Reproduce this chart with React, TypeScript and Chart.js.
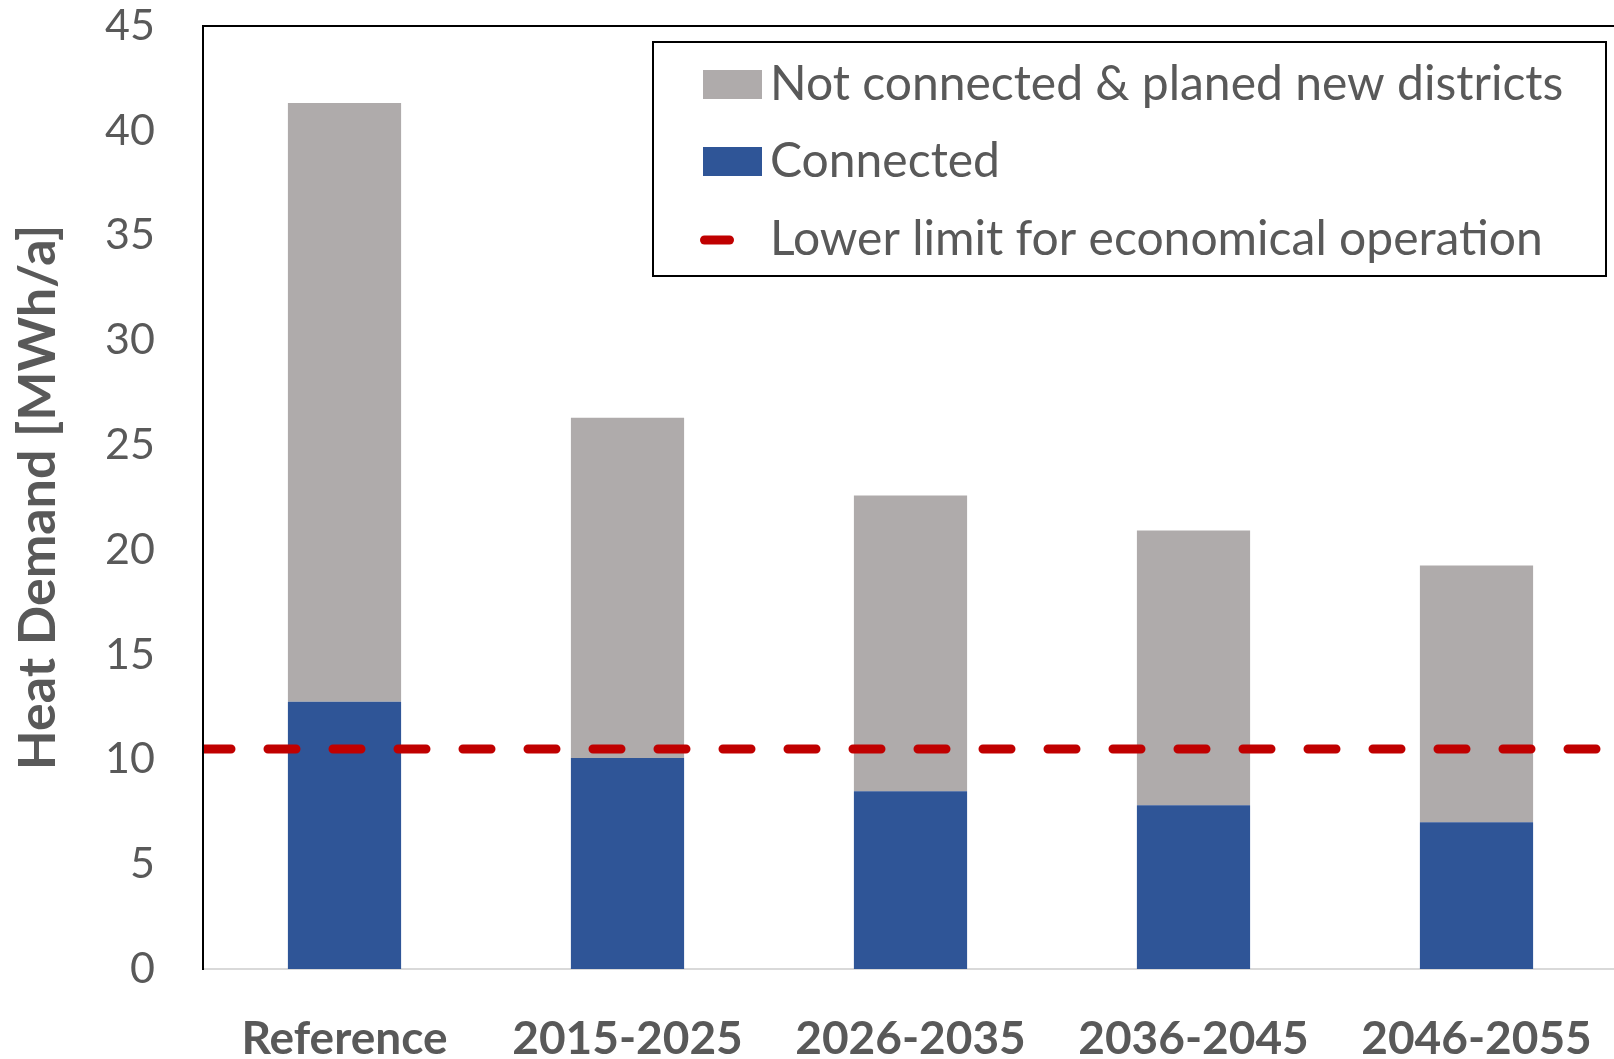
import React, { useEffect, useRef } from 'react';
import { Chart, registerables } from 'chart.js';

Chart.register(...registerables);

const categories = ['Reference', '2015-2025', '2026-2035', '2036-2045', '2046-2055'];
const connected = [12.75, 10.07, 8.48, 7.82, 7.0];
const notConnected = [28.58, 16.24, 14.11, 13.1, 12.25];
const lowerLimit = 10.5;
const yMin = 0;
const yMax = 45;
const yStep = 5;
const seriesLabels = [
  'Not connected & planed new districts',
  'Connected',
  'Lower limit for economical operation',
];
const axisTitle = 'Heat Demand [MWh/a]';

const GREY = '#AFABAB';
const BLUE = '#2F5597';
const RED = '#C00000';
const TEXT = '#595959';
const FONT = 'Lato';

const frameAndLimit = {
  id: 'frameAndLimit',
  afterDatasetsDraw(chart: any) {
    const { ctx, chartArea } = chart;
    const y = chart.scales.y.getPixelForValue(lowerLimit);
    ctx.save();
    ctx.beginPath();
    ctx.rect(chartArea.left + 1, chartArea.top, chartArea.right - chartArea.left, chartArea.bottom - chartArea.top);
    ctx.clip();
    ctx.strokeStyle = RED;
    ctx.lineWidth = 9;
    ctx.lineCap = 'round';
    ctx.setLineDash([28, 37]);
    ctx.beginPath();
    ctx.moveTo(chartArea.left, y);
    ctx.lineTo(chartArea.right + 40, y);
    ctx.stroke();
    ctx.restore();

    ctx.save();
    ctx.strokeStyle = '#000';
    ctx.lineWidth = 2;
    ctx.beginPath();
    ctx.moveTo(chartArea.left - 1, chartArea.top);
    ctx.lineTo(chartArea.right, chartArea.top);
    ctx.lineTo(chartArea.right, chartArea.bottom);
    ctx.stroke();
    ctx.restore();
  },
};

const legendBox = {
  id: 'legendBox',
  afterDraw(chart: any) {
    const { ctx } = chart;
    const bx = 653, by = 42, bw = 953, bh = 234;
    ctx.save();
    ctx.fillStyle = '#fff';
    ctx.fillRect(bx, by, bw, bh);
    ctx.strokeStyle = '#000';
    ctx.lineWidth = 2;
    ctx.strokeRect(bx, by, bw, bh);

    const rows = [84.5, 161.5, 240];
    ctx.fillStyle = GREY;
    ctx.fillRect(703, rows[0] - 14.5, 59, 29);
    ctx.fillStyle = BLUE;
    ctx.fillRect(703, rows[1] - 14.5, 59, 29);
    ctx.strokeStyle = RED;
    ctx.lineWidth = 9;
    ctx.lineCap = 'round';
    ctx.beginPath();
    ctx.moveTo(704.5, rows[2]);
    ctx.lineTo(729.5, rows[2]);
    ctx.stroke();

    ctx.fillStyle = TEXT;
    ctx.font = `48px ${FONT}`;
    ctx.textAlign = 'left';
    ctx.textBaseline = 'middle';
    seriesLabels.forEach((t, i) => ctx.fillText(t, 770, rows[i]));
    ctx.restore();
  },
};

export default function App() {
  const ref = useRef<HTMLCanvasElement>(null);

  useEffect(() => {
    const canvas = ref.current;
    if (!canvas) return;
    const chart = new Chart(canvas, {
      type: 'bar',
      data: {
        labels: categories,
        datasets: [
          {
            label: seriesLabels[1],
            data: connected,
            backgroundColor: BLUE,
            stack: 's',
            categoryPercentage: 1,
            barPercentage: 0.4,
          },
          {
            label: seriesLabels[0],
            data: notConnected,
            backgroundColor: GREY,
            stack: 's',
            categoryPercentage: 1,
            barPercentage: 0.4,
          },
        ],
      },
      options: {
        responsive: false,
        animation: false,
        layout: { padding: { top: 26, right: 0, bottom: 0, left: 0 } },
        plugins: {
          legend: { display: false },
          tooltip: { enabled: false },
        },
        scales: {
          x: {
            stacked: true,
            grid: { display: false, drawTicks: false },
            border: { display: true, color: '#D9D9D9', width: 2 },
            ticks: {
              color: TEXT,
              font: { family: FONT, size: 46, weight: 'bold' },
              padding: 43,
              maxRotation: 0,
              autoSkip: false,
            },
            afterFit: (s: any) => {
              s.height = 90;
              s.paddingLeft = 0;
              s.paddingRight = 0;
            },
          },
          y: {
            stacked: true,
            min: yMin,
            max: yMax,
            grid: { display: false, drawTicks: false },
            border: { display: true, color: '#000', width: 2 },
            ticks: {
              stepSize: yStep,
              color: TEXT,
              font: { family: FONT, size: 43 },
              padding: 48,
            },
            title: {
              display: true,
              text: axisTitle,
              color: TEXT,
              font: { family: FONT, size: 52, weight: 'bold', lineHeight: 1 },
              padding: { top: 12, bottom: 0 },
            },
            afterFit: (s: any) => {
              s.width = 203;
              s.paddingTop = 0;
              s.paddingBottom = 0;
            },
          },
        },
      },
      plugins: [frameAndLimit, legendBox],
    });
    return () => chart.destroy();
  }, []);

  return (
    <div style={{ position: 'fixed', left: 0, top: 0, width: 1614, height: 1059, overflow: 'hidden', background: '#fff' }}>
      <canvas ref={ref} width={1618} height={1059} style={{ width: 1618, height: 1059, display: 'block' }} />
    </div>
  );
}
